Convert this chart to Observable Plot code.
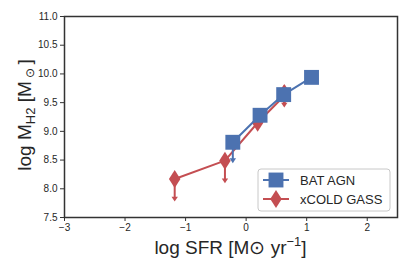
<!DOCTYPE html>
<html><head><meta charset="utf-8">
<script src="https://cdn.jsdelivr.net/npm/d3@7"></script>
<script src="https://cdn.jsdelivr.net/npm/@observablehq/plot@0.6"></script>
<style>
html,body{margin:0;padding:0;background:#fff;}
svg{font-family:"Liberation Sans",Arial,sans-serif;}
</style></head>
<body><div id="chart"></div>
<script>
// BAT AGN
const batX = [-0.22, 0.23, 0.62, 1.08];
const batY = [8.81, 9.28, 9.64, 9.94];
const batLow = [8.48, null, null, null];   // upper-limit arrows (lower end)
// xCOLD GASS
const coldX = [-1.18, -0.35, 0.19, 0.63];
const coldY = [8.17, 8.49, 9.15, 9.62];
const coldLow = [7.81, 8.13, null, 9.45];
const coldHigh = [null, null, null, 9.79];
// ticks
const xTicks = [-3, -2, -1, 0, 1, 2];
const yTicks = [7.5, 8.0, 8.5, 9.0, 9.5, 10.0, 10.5, 11.0];
const seriesNames = ["BAT AGN", "xCOLD GASS"];

const blue = "#4c72b0", red = "#c44e52";

const bat = batX.map((x, i) => ({x, y: batY[i], lo: batLow[i]}));
const cold = coldX.map((x, i) => ({x, y: coldY[i], lo: coldLow[i], hi: coldHigh[i]}));

const diamond = {draw(ctx, size) {
  const r = Math.sqrt(size / Math.PI);
  ctx.moveTo(0, -r); ctx.lineTo(r * 0.64, 0); ctx.lineTo(0, r); ctx.lineTo(-r * 0.64, 0); ctx.closePath();
}};
const caretDown = {draw(ctx, size) {
  const r = Math.sqrt(size / Math.PI);
  ctx.moveTo(-r, -r * 0.9); ctx.lineTo(r, -r * 0.9); ctx.lineTo(0, r * 0.6); ctx.closePath();
}};
const caretUp = {draw(ctx, size) {
  const r = Math.sqrt(size / Math.PI);
  ctx.moveTo(-r, r * 0.9); ctx.lineTo(r, r * 0.9); ctx.lineTo(0, -r * 0.6); ctx.closePath();
}};

const W = 409, H = 273;
const plot = Plot.plot({
  width: W, height: H,
  marginLeft: 64, marginRight: 12, marginTop: 16, marginBottom: 56,
  style: {fontFamily: "Liberation Sans, Arial, sans-serif", fontSize: "10px", color: "#262626", background: "#fff"},
  x: {domain: [-3, 2.5], label: null},
  y: {domain: [7.5, 11], label: null},
  marks: [
    // xCOLD GASS
    Plot.ruleX(cold.filter(d => d.lo != null), {x: "x", y1: d => d.lo, y2: d => d.hi ?? d.y, stroke: red, strokeWidth: 2}),
    Plot.dot(cold.filter(d => d.lo != null), {x: "x", y: "lo", symbol: caretDown, r: 3.2, fill: red, stroke: "none"}),
    Plot.dot(cold.filter(d => d.hi != null), {x: "x", y: "hi", symbol: caretUp, r: 3.2, fill: red, stroke: "none"}),
    Plot.line(cold, {x: "x", y: "y", stroke: red, strokeWidth: 2}),
    Plot.dot(cold, {x: "x", y: "y", symbol: diamond, r: 9, fill: red, stroke: "none"}),
    // BAT AGN
    Plot.ruleX(bat.filter(d => d.lo != null), {x: "x", y1: "lo", y2: "y", stroke: blue, strokeWidth: 2}),
    Plot.dot(bat.filter(d => d.lo != null), {x: "x", y: "lo", symbol: caretDown, r: 3.2, fill: blue, stroke: "none"}),
    Plot.line(bat, {x: "x", y: "y", stroke: blue, strokeWidth: 2}),
    Plot.dot(bat, {x: "x", y: "y", symbol: "square", r: 8.4, fill: blue, stroke: "none"}),
    // axes
    Plot.axisX({ticks: xTicks, tickSize: 4, tickPadding: 2, tickFormat: d => d < 0 ? "\u2212" + Math.abs(d) : String(d), stroke: "#333", fill: "#262626", label: null}),
    Plot.axisY({ticks: yTicks, tickSize: 4, tickPadding: 3, tickFormat: d => d.toFixed(1), stroke: "#333", fill: "#262626", label: null}),
    Plot.frame({stroke: "#333", strokeWidth: 1.5})
  ]
});
document.getElementById("chart").appendChild(plot);

const svg = d3.select(plot);
// axis labels
const xl = svg.append("text").attr("x", 230.5).attr("y", 254).attr("text-anchor", "middle")
  .attr("font-size", 19).attr("fill", "#262626");
xl.append("tspan").text("log SFR [M\u2299 yr");
xl.append("tspan").attr("dy", -8).attr("font-size", 13).text("\u22121");
xl.append("tspan").attr("dy", 8).text("]");

const yl = svg.append("text").attr("transform", "translate(31,115) rotate(-90)").attr("text-anchor", "middle")
  .attr("font-size", 19).attr("fill", "#262626");
yl.append("tspan").text("log M");
yl.append("tspan").attr("dy", 4).attr("font-size", 13).text("H2");
yl.append("tspan").attr("dy", -4).text(" [M");
yl.append("tspan").attr("dy", 3).attr("font-size", 12).text(" \u2299 ");
yl.append("tspan").attr("dy", -3).text("]");

// legend
const lg = svg.append("g").attr("text-anchor", "start");
lg.append("rect").attr("x", 258).attr("y", 169).attr("width", 132).attr("height", 42).attr("rx", 3)
  .style("fill", "#fff").style("fill-opacity", 0.85).style("stroke", "#c8c8c8").style("stroke-width", "1px");
const rows = [
  {name: seriesNames[0], color: blue, sym: d3.symbolSquare, size: 8.4 * 8.4 * Math.PI, y: 180},
  {name: seriesNames[1], color: red, sym: diamond, size: 9 * 9 * Math.PI, y: 199}
];
rows.forEach(r => {
  lg.append("line").attr("x1", 263).attr("x2", 289).attr("y1", r.y).attr("y2", r.y).attr("stroke", r.color).attr("stroke-width", 2);
  lg.append("path").attr("transform", `translate(276,${r.y})`).attr("d", d3.symbol(r.sym, r.size)()).attr("fill", r.color);
  lg.append("text").attr("x", 300).attr("y", r.y).attr("dy", "0.36em").attr("text-anchor", "start").attr("font-size", 13).attr("fill", "#262626").text(r.name);
});
</script></body></html>
